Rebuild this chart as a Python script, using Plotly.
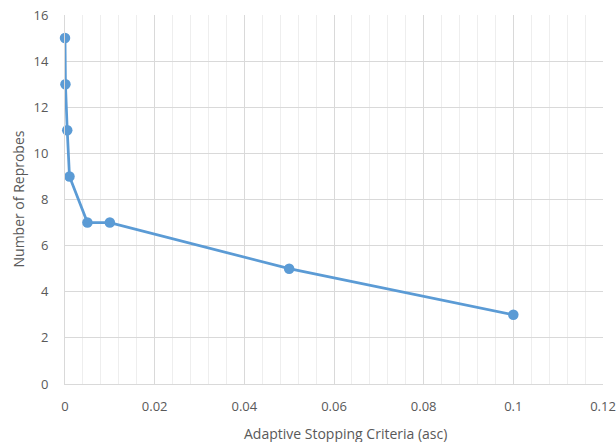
import plotly.graph_objects as go

criteria = [0, 0.0001, 0.0005, 0.001, 0.005, 0.01, 0.05, 0.1]
reprobes = [15, 13, 11, 9, 7, 7, 5, 3]
x_title = "Adaptive Stopping Criteria (asc)"
y_title = "Number of Reprobes"

color = "#5B9BD5"
txt = "#595959"
font = "Open Sans, Liberation Sans, sans-serif"

L, R, T, B = 65, 13, 15, 58
W, H = 616, 442
pw, ph = W - L - R, H - T - B

fig = go.Figure()
fig.add_trace(go.Scatter(
    x=criteria, y=reprobes, mode="lines+markers",
    line=dict(color=color, width=2.75),
    marker=dict(color=color, size=10.5),
    showlegend=False, cliponaxis=False,
))

fig.update_layout(
    width=W, height=H,
    margin=dict(l=L, r=R, t=T, b=B, autoexpand=False),
    paper_bgcolor="white", plot_bgcolor="white",
    font=dict(family=font, size=13, color=txt),
    xaxis=dict(
        range=[0, 0.12], dtick=0.02, tick0=0,
        showgrid=True, gridcolor="#D9D9D9", gridwidth=1,
        minor=dict(dtick=0.004, showgrid=True, gridcolor="#EEEEEE", gridwidth=1),
        showline=True, linecolor="#D9D9D9", linewidth=1,
        zeroline=False, ticks="", automargin=False,
        ticklabelstandoff=10,
        tickfont=dict(size=13, color=txt),
    ),
    yaxis=dict(
        range=[0, 16], dtick=2,
        showgrid=True, gridcolor="#D9D9D9", gridwidth=1,
        showline=True, linecolor="#D9D9D9", linewidth=1,
        zeroline=False, ticks="", automargin=False,
        ticklabelstandoff=13,
        tickfont=dict(size=13, color=txt),
    ),
    annotations=[
        dict(text=x_title, xref="paper", yref="paper",
             x=(345 - L) / pw, y=-(433 - (T + ph)) / ph,
             xanchor="center", yanchor="middle", showarrow=False,
             font=dict(size=14, color=txt)),
        dict(text=y_title, xref="paper", yref="paper",
             x=(18 - L) / pw, y=0.5, textangle=-90,
             xanchor="center", yanchor="middle", showarrow=False,
             font=dict(size=14, color=txt)),
    ],
)

fig.write_html("out.html", config={"displayModeBar": False},
               post_script="document.body.style.margin='0';")
